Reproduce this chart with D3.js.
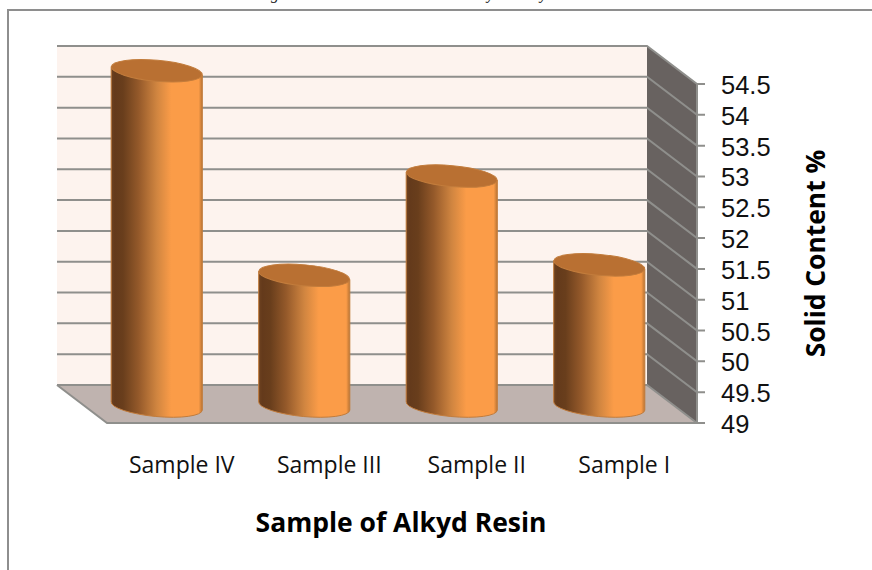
<!DOCTYPE html>
<html><head><meta charset="utf-8">
<script src="https://cdn.jsdelivr.net/npm/d3@7/dist/d3.min.js"></script>
<style>html,body{margin:0;padding:0;background:#fff}svg{display:block}</style>
</head><body><svg id="c" width="872" height="570"></svg>
<script>
const categories = ["Sample IV", "Sample III", "Sample II", "Sample I"];
const solidContent = [54.44, 51.12, 52.73, 51.29];
const yTicks = [49, 49.5, 50, 50.5, 51, 51.5, 52, 52.5, 53, 53.5, 54, 54.5];
const xTitle = "Sample of Alkyd Resin";
const yTitle = "Solid Content %";

const svg = d3.select("#c");
const wall = {x0: 57, x1: 647, y0: 385, y1: 46};
const depth = {dx: 50, dy: 38};
const y = d3.scaleLinear().domain([49, 54.5]).range([wall.y0, wall.y1]);
const x = d3.scaleBand().domain(categories).range([wall.x0 + 26, wall.x1 + 26]).paddingInner(0.382).paddingOuter(0.191);

const defs = svg.append("defs");
const grad = defs.append("linearGradient").attr("id", "cyl");
[[0, "#6e4220"], [0.04, "#643a1b"], [0.13, "#693e1c"], [0.3, "#94592a"], [0.5, "#d08540"], [0.66, "#fb9c48"], [0.96, "#fb9c48"], [1, "#b87333"]]
  .forEach(([o, c]) => grad.append("stop").attr("offset", o).attr("stop-color", c));

// chart frame
svg.append("path").attr("d", "M8,570V10H872").attr("fill", "none").attr("stroke", "#8e8e8e").attr("stroke-width", 2);

// the caption above the frame is cropped by the page: only these descenders remain
const captionCut = svg.append("g").attr("font-family", "Liberation Serif").attr("font-style", "italic").attr("font-size", 16).attr("fill", "#222");
captionCut.append("text").attr("x", 271).attr("y", -1).text("g");
captionCut.append("text").attr("x", 487).attr("y", -1).text("y");
captionCut.append("text").attr("x", 540).attr("y", -1).text("y");

// walls and floor
svg.append("rect").attr("x", wall.x0).attr("y", wall.y1).attr("width", wall.x1 - wall.x0).attr("height", wall.y0 - wall.y1).attr("fill", "#fdf3ee");
svg.append("path").attr("fill", "#686260")
  .attr("d", d3.line()([[wall.x1, wall.y1], [wall.x1 + depth.dx, wall.y1 + depth.dy], [wall.x1 + depth.dx, wall.y0 + depth.dy], [wall.x1, wall.y0]]));
svg.append("path").attr("fill", "#bfb3af")
  .attr("d", d3.line()([[wall.x0, wall.y0], [wall.x1, wall.y0], [wall.x1 + depth.dx, wall.y0 + depth.dy], [wall.x0 + depth.dx, wall.y0 + depth.dy]]));

// gridlines
const grid = svg.append("g").attr("fill", "none").attr("stroke", "#8f8f8c").attr("stroke-width", 2);
yTicks.forEach(t => {
  grid.append("path").attr("d", d3.line()([
    [wall.x0, y(t)], [wall.x1, y(t)], [wall.x1 + depth.dx, y(t) + depth.dy], [wall.x1 + depth.dx + 8, y(t) + depth.dy]
  ]));
});
grid.append("path").attr("d", d3.line()([[wall.x1 + depth.dx, wall.y1 + depth.dy], [wall.x1 + depth.dx, wall.y0 + depth.dy]]));
grid.append("path").attr("d", d3.line()([[wall.x0, wall.y0], [wall.x0 + depth.dx, wall.y0 + depth.dy], [wall.x1 + depth.dx, wall.y0 + depth.dy]]));

// cylinders: a tilted ellipse on a shaded body
const tiltDeg = 5.2;
const ry = 10.5;
const midDy = 21;
const cyl = svg.append("g").selectAll("g").data(categories).join("g");
cyl.each(function (c, i) {
  const g = d3.select(this), w = x.bandwidth(), l = x(c), r = l + w, rx = w / 2;
  const tilt = rx * Math.tan(tiltDeg * Math.PI / 180);
  const yBase = y(49) + midDy, yTop = y(solidContent[i]) + midDy;
  g.append("path")
    .attr("d", `M${l},${yTop - tilt}L${l},${yBase - tilt}A${rx},${ry} ${tiltDeg} 0 0 ${r},${yBase + tilt}L${r},${yTop + tilt}Z`)
    .attr("fill", "url(#cyl)").attr("stroke", "#c27c3c").attr("stroke-width", 1);
  g.append("ellipse").attr("cx", l + rx).attr("cy", yTop).attr("rx", rx).attr("ry", ry)
    .attr("transform", `rotate(${tiltDeg} ${l + rx} ${yTop})`)
    .attr("fill", "#b97032").attr("stroke", "#c27c3c").attr("stroke-width", 1);
});

// tick labels
svg.append("g").selectAll("text").data(yTicks).join("text")
  .attr("x", 721).attr("y", d => y(d) + depth.dy + 10)
  .attr("font-family", "Liberation Sans").attr("font-size", 25.5).attr("fill", "#111")
  .text(d => d);
svg.append("g").selectAll("text").data(categories).join("text")
  .attr("x", c => x(c) + x.bandwidth() / 2 + 25).attr("y", 473).attr("text-anchor", "middle")
  .attr("font-family", "Open Sans").attr("font-size", 23).attr("fill", "#111")
  .text(c => c);
svg.append("text").attr("x", 401).attr("y", 532).attr("text-anchor", "middle")
  .attr("font-family", "Open Sans").attr("font-weight", 700).attr("font-size", 26.5).attr("fill", "#000").text(xTitle);
svg.append("text").attr("transform", "translate(825,253.5) rotate(-90)").attr("text-anchor", "middle")
  .attr("font-family", "Open Sans").attr("font-weight", 700).attr("font-size", 26.4).attr("fill", "#000").text(yTitle);
</script></body></html>
